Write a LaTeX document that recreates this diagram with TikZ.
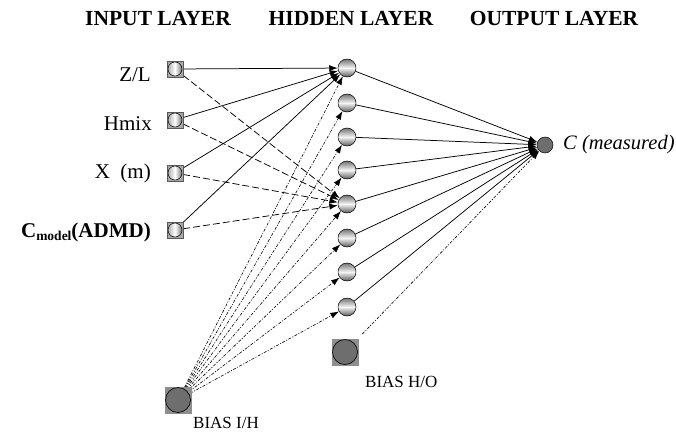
\documentclass[tikz,border=0pt]{standalone}
\usepackage{fontspec}
\setmainfont{Liberation Serif}
\usetikzlibrary{positioning,arrows.meta,calc,backgrounds}
\definecolor{nodegray}{HTML}{6E6E6E}
\definecolor{boxgray}{HTML}{A8A8A8}
\definecolor{biasgray}{HTML}{8E8E8E}
\begin{document}
\begin{tikzpicture}[x=1pt,y=-1pt,
  inbox/.style={draw=gray!70!black,fill=boxgray,minimum size=16pt,inner sep=0pt,
    path picture={\shade[left color=gray!70,right color=gray!75!black,middle color=white,draw=black,line width=0.5pt]
      (path picture bounding box.center) circle (7pt);}},
  hidnode/.style={circle,draw,line width=0.5pt,minimum size=18pt,inner sep=0pt,
    top color=gray!90!black,bottom color=gray!70!black,middle color=white!92!gray},
  outnode/.style={circle,draw,line width=0.5pt,fill=nodegray,minimum size=16pt,inner sep=0pt},
  biasnode/.style={fill=biasgray,minimum size=27pt,inner sep=0pt,
    path picture={\filldraw[fill=nodegray,draw=black,line width=0.6pt]
      (path picture bounding box.center) circle (12.5pt);}},
  hdr/.style={font=\fontsize{21.5}{24}\selectfont\bfseries,anchor=base,inner sep=0pt},
  lbl/.style={font=\fontsize{21}{24}\selectfont,anchor=base east,inner sep=0pt},
  conn/.style={-{Latex[length=8.5pt,width=6pt]},line width=0.75pt},
  dconn/.style={conn,dash pattern=on 7pt off 3pt},
  bconn/.style={conn,line width=0.6pt,dash pattern=on 3pt off 1.5pt on 1pt off 1.5pt}]
  \useasboundingbox (0,0) rectangle (676,433);

  % layer titles
  \node[hdr] (tin) at (158,26) {INPUT LAYER};
  \node[hdr] (thid) at (351,26) {HIDDEN LAYER};
  \node[hdr] (tout) at (554,26) {OUTPUT LAYER};

  % input layer
  \node[inbox] (in1) at (175,69) {};
  \node[inbox] (in2) at (175,120) {};
  \node[inbox] (in3) at (175,173) {};
  \node[inbox] (in4) at (175,230) {};
  \node[lbl] (lzl) at (151,82) {Z/L};
  \node[lbl] (lhmix) at (152,130) {Hmix};
  \node[lbl] (lx) at (151,178) {X~~(m)};
  \node[lbl] (lcm) at (151,237) {\bfseries C\raisebox{-3pt}{\fontsize{13.5}{13.5}\selectfont model}(ADMD)};

  % hidden layer
  \foreach \i/\y in {1/68,2/103,3/137,4/170,5/204,6/238,7/272,8/307}
    \node[hidnode] (h\i) at (347,\y) {};

  % output layer
  \node[outnode] (out) at (545,145) {};
  \node[font=\fontsize{20.5}{24}\selectfont\itshape,anchor=west,inner sep=0pt] (lout) at (563,145) {C (measured)};

  % bias units
  \node[biasnode] (bih) at (178,400) {};
  \node[biasnode] (bho) at (345,352) {};
  \node[font=\fontsize{17}{20}\selectfont,anchor=base west,inner sep=0pt] (lbih) at (193,428) {BIAS I/H};
  \node[font=\fontsize{17}{20}\selectfont,anchor=base west,inner sep=0pt] (lbho) at (365,387) {BIAS H/O};

  \begin{scope}[on background layer]
    \foreach \k in {1,...,4} {
      \draw[conn] (in\k) -- (h1);
      \draw[dconn] (in\k) -- (h5);
    }
    \foreach \k in {1,...,8} {
      \draw[bconn] (bih.center) -- (h\k);
      \draw[conn] (h\k) -- (out);
    }
    \draw[bconn,shorten <=6pt] (bho) -- (out);
  \end{scope}
\end{tikzpicture}
\end{document}
